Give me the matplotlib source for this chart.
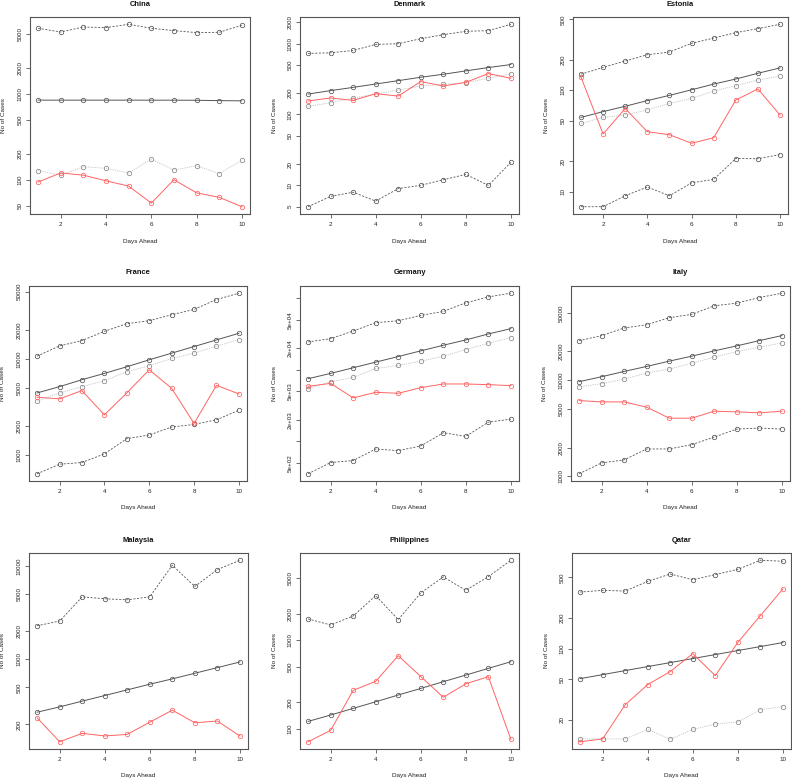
import matplotlib
matplotlib.use("Agg")
import matplotlib.pyplot as plt
from matplotlib.ticker import FixedLocator, FixedFormatter, NullLocator
import numpy as np

plt.rcParams['font.family'] = ['Liberation Sans', 'DejaVu Sans']

days = list(range(1, 11))

# ---- data ----
china_upper = [5830, 5280, 6040, 5930, 6490, 5830, 5480, 5190, 5240, 6320]
china_median = [851, 851, 851, 851, 851, 850, 850, 848, 840, 835]
china_alt = [129, 114, 143, 137, 121, 175, 131, 147, 119, 170]
china_obs = [95, 121, 114, 98, 85, 54, 101, 71, 63, 49]

denmark_upper = [726, 741, 800, 973, 995, 1171, 1335, 1488, 1521, 1870]
denmark_median = [194, 217, 241, 269, 300, 335, 369, 412, 459, 506]
denmark_lower = [5.0, 7.0, 8.0, 6.0, 9.0, 10.0, 12.0, 14.3, 10.0, 21.1]
denmark_alt = [130, 146, 171, 194, 221, 252, 266, 281, 324, 373]
denmark_obs = [155, 171, 158, 196, 182, 291, 252, 284, 377, 324]

estonia_upper = [144, 168, 194, 224, 238, 290, 327, 370, 405, 447]
estonia_median = [54, 61.5, 69.5, 79, 89, 101, 115, 129, 147, 166]
estonia_lower = [7.1, 7.1, 9.1, 11.1, 9.1, 12.2, 13.2, 21.2, 21.1, 23.2]
estonia_alt = [47, 54, 57, 64, 74, 83, 98, 111, 126, 138]
estonia_obs = [135, 37, 66, 39, 36.4, 30, 34, 80, 103, 57]

france_upper = [10660, 13630, 15480, 19320, 23200, 24920, 28760, 32660, 41430, 48160]
france_median = [4414, 5130, 6060, 7050, 8260, 9770, 11450, 13420, 15730, 18440]
france_lower = [636, 800, 833, 1024, 1476, 1610, 1949, 2076, 2320, 2920]
france_alt = [3620, 4414, 5130, 5920, 7340, 8470, 10080, 11450, 13520, 15850]
france_obs = [3980, 3830, 4670, 2610, 4414, 7690, 4930, 2127, 5300, 4310]

germany_upper = [24480, 27200, 34800, 45400, 48400, 57400, 65300, 86100, 104300, 117300]
germany_median = [7500, 8890, 10660, 12780, 15300, 18360, 22000, 26100, 31640, 37500]
germany_lower = [352, 505, 539, 782, 741, 861, 1319, 1172, 1853, 2040]
germany_alt = [5440, 6810, 7820, 10420, 11470, 13190, 15480, 19150, 23460, 28100]
germany_obs = [5870, 6450, 4040, 4840, 4690, 5620, 6330, 6330, 6190, 6000]

italy_upper = [25900, 29200, 35100, 37900, 44900, 48600, 59700, 63600, 72800, 80700]
italy_median = [9690, 10910, 12390, 13960, 15850, 17860, 20280, 22850, 25940, 29220]
italy_lower = [1066, 1384, 1487, 1933, 1933, 2143, 2572, 3110, 3187, 3110]
italy_alt = [8530, 9240, 10320, 11910, 13100, 15110, 17420, 19960, 22130, 24530]
italy_obs = [6160, 5970, 5970, 5260, 4040, 4040, 4780, 4700, 4590, 4780]

malaysia_upper = [2295, 2575, 4690, 4470, 4360, 4690, 10250, 6060, 9210, 11600]
malaysia_median = [270, 308, 355, 408, 469, 540, 616, 708, 814, 936]
malaysia_obs = [235, 130, 160, 150, 156, 211, 284, 208, 217, 150]

philippines_upper = [1740, 1490, 1880, 3190, 1710, 3420, 5180, 3660, 5220, 7980]
philippines_median = [122, 144, 171, 203, 242, 287, 342, 406, 483, 574]
philippines_obs = [72, 96.6, 273, 345, 671, 391, 228, 324, 389, 76.5]

qatar_upper = [358, 372, 366, 456, 538, 473, 531, 598, 734, 718]
qatar_median = [50.7, 55.5, 60.8, 66.6, 72.8, 79.8, 87.3, 95.6, 104.6, 114.5]
qatar_alt = [13.0, 13.0, 13.0, 16.1, 12.9, 16.1, 18.2, 19.1, 25.1, 26.9]
qatar_obs = [12.2, 13.0, 28.1, 44.3, 59.5, 89.3, 54.2, 115, 210, 384]

x_ticks = [2, 4, 6, 8, 10]

panels = [
    ("China", china_upper, china_median, None, china_alt, china_obs,
     [50, 100, 200, 500, 1000, 2000, 5000], None),
    ("Denmark", denmark_upper, denmark_median, denmark_lower, denmark_alt, denmark_obs,
     [5, 10, 20, 50, 100, 200, 500, 1000, 2000], None),
    ("Estonia", estonia_upper, estonia_median, estonia_lower, estonia_alt, estonia_obs,
     [10, 20, 50, 100, 200, 500], None),
    ("France", france_upper, france_median, france_lower, france_alt, france_obs,
     [1000, 2000, 5000, 10000, 20000, 50000], None),
    ("Germany", germany_upper, germany_median, germany_lower, germany_alt, germany_obs,
     [500, 1000, 2000, 5000, 10000, 20000, 50000, 100000],
     ["5e+02", "", "2e+03", "5e+03", "", "2e+04", "5e+04", ""]),
    ("Italy", italy_upper, italy_median, italy_lower, italy_alt, italy_obs,
     [1000, 2000, 5000, 10000, 20000, 50000], None),
    ("Malaysia", malaysia_upper, malaysia_median, None, None, malaysia_obs,
     [200, 500, 1000, 2000, 5000, 10000], None),
    ("Philippines", philippines_upper, philippines_median, None, None, philippines_obs,
     [100, 200, 500, 1000, 2000, 5000], None),
    ("Qatar", qatar_upper, qatar_median, None, qatar_alt, qatar_obs,
     [20, 50, 100, 200, 500], None),
]

# axes boxes in pixels: (left, top, right, bottom)
boxes = [
    (30, 17, 250, 214), (300, 17, 519, 214), (573, 17, 788, 214),
    (29, 286, 247, 481), (300, 286, 519, 481), (571, 286, 790, 481),
    (29, 553, 248, 749), (300, 553, 519, 749), (572, 553, 791, 749),
]

W, H = 792, 780
fig = plt.figure(figsize=(W / 100, H / 100), dpi=100)
fig.patch.set_facecolor("white")

dark = "#555555"
light = "#c4c4c4"
red = "#ff6363"
mk = dict(marker="o", markersize=3.2, markerfacecolor="none", markeredgewidth=0.55)

for (name, up, med, low, alt, obs, yt, ylab), (l, t, r, b) in zip(panels, boxes):
    ax = fig.add_axes([l / W, 1 - b / H, (r - l) / W, (b - t) / H])
    ax.set_yscale("log")
    ax.plot(days, up, color=dark, lw=0.6, dashes=(2.5, 1.8), markeredgecolor=dark, **mk)
    ax.plot(days, med, color=dark, lw=0.7, markeredgecolor=dark, **mk)
    if low is not None:
        ax.plot(days, low, color=dark, lw=0.6, dashes=(2.5, 1.8), markeredgecolor=dark, **mk)
    if alt is not None:
        ax.plot(days, alt, color=light, lw=0.6, dashes=(1.5, 1.2), markeredgecolor="#888888", **mk)
    ax.plot(days, obs, color=red, lw=0.7, markeredgecolor=red, **mk)
    ax.margins(x=0.04, y=0.04)
    ax.autoscale_view()

    ax.xaxis.set_major_locator(FixedLocator(x_ticks))
    ax.set_xticklabels([str(v) for v in x_ticks])
    ax.yaxis.set_major_locator(FixedLocator(yt))
    ax.yaxis.set_minor_locator(NullLocator())
    labels = ylab if ylab is not None else [str(v) for v in yt]
    ax.yaxis.set_major_formatter(FixedFormatter(labels))
    ax.tick_params(axis="both", which="major", length=3, width=0.6, color=dark,
                   labelsize=4.5, pad=2.5, labelcolor="#222222")
    for lab in ax.get_yticklabels():
        lab.set_rotation(90)
        lab.set_verticalalignment("center")
    for s in ax.spines.values():
        s.set_color(dark)
        s.set_linewidth(0.8)

    cx = (l + r) / 2
    fig.text(cx / W, 1 - (t - 13) / H, name, ha="center", va="center",
             fontsize=5.4, fontweight="bold", color="#111111")
    fig.text(cx / W, 1 - (b + 27) / H, "Days Ahead", ha="center", va="center",
             fontsize=4.6, color="#222222")
    fig.text((l - 26) / W, 1 - ((t + b) / 2) / H, "No of Cases", ha="center",
             va="center", rotation=90, fontsize=4.6, color="#222222")

fig.savefig("out.png", dpi=100, facecolor="white")
